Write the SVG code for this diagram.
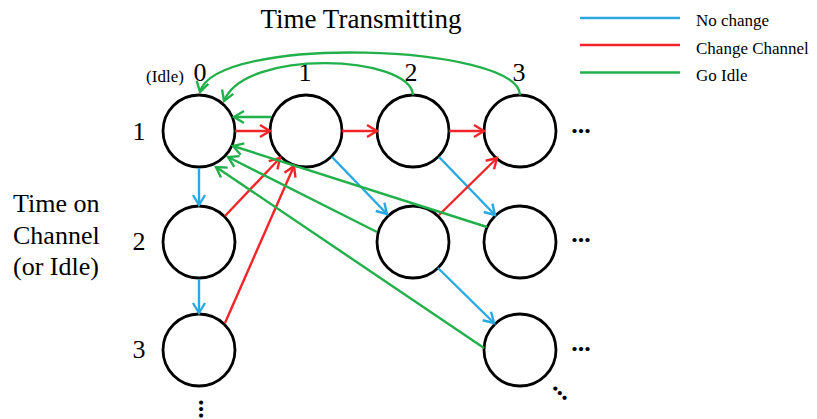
<svg xmlns="http://www.w3.org/2000/svg" width="817" height="419" viewBox="0 0 817 419">
  <style>
    text { font-family: "Liberation Serif", "Times New Roman", serif; fill: #000; }
    .big { font-size: 26px; }
    .title { font-size: 27px; }
    .leg { font-size: 17px; }
    .dots { font-size: 26px; font-weight: bold; }
    .node { fill: #fff; stroke: #000; stroke-width: 2.8; }
    .blue { stroke: #29A9E1; stroke-width: 2.4; fill: none; marker-end: url(#ab); }
    .red { stroke: #F22628; stroke-width: 2.4; fill: none; marker-end: url(#ar); }
    .green { stroke: #22B04B; stroke-width: 2.4; fill: none; marker-end: url(#ag); }
  </style>
  <defs>
    <marker id="ab" markerUnits="userSpaceOnUse" markerWidth="16" markerHeight="16" viewBox="-12 -8 14 16" refX="0" refY="0" orient="auto">
      <path d="M-10,-6 L0,0 L-10,6" fill="none" stroke="#29A9E1" stroke-width="2.4"/>
    </marker>
    <marker id="ar" markerUnits="userSpaceOnUse" markerWidth="16" markerHeight="16" viewBox="-12 -8 14 16" refX="0" refY="0" orient="auto">
      <path d="M-10,-6 L0,0 L-10,6" fill="none" stroke="#F22628" stroke-width="2.4"/>
    </marker>
    <marker id="ag" markerUnits="userSpaceOnUse" markerWidth="16" markerHeight="16" viewBox="-12 -8 14 16" refX="0" refY="0" orient="auto">
      <path d="M-10,-6 L0,0 L-10,6" fill="none" stroke="#22B04B" stroke-width="2.4"/>
    </marker>
  </defs>

  <!-- labels -->
  <g id="labels">
    <text class="title" x="361" y="28" text-anchor="middle">Time Transmitting</text>
    <text x="165" y="82" text-anchor="middle" style="font-size:17px">(Idle)</text>
    <text class="big" x="200" y="81" text-anchor="middle">0</text>
    <text class="big" x="305" y="81" text-anchor="middle">1</text>
    <text class="big" x="411" y="81" text-anchor="middle">2</text>
    <text class="big" x="519" y="81" text-anchor="middle">3</text>
    <text class="big" x="139" y="140" text-anchor="middle">1</text>
    <text class="big" x="139" y="250" text-anchor="middle">2</text>
    <text class="big" x="139" y="358" text-anchor="middle">3</text>
    <text class="big" x="13" y="212">Time on</text>
    <text class="big" x="13" y="244">Channel</text>
    <text class="big" x="13" y="275">(or Idle)</text>
    <text class="dots" x="581" y="133" text-anchor="middle">...</text>
    <text class="dots" x="581" y="242" text-anchor="middle">...</text>
    <text class="dots" x="581" y="351" text-anchor="middle">...</text>
    <text class="dots" x="201" y="411" text-anchor="middle" transform="rotate(90 201 409)">...</text>
    <text class="dots" x="560" y="395" text-anchor="middle" transform="rotate(45 560 393)">...</text>
  </g>

  <!-- legend -->
  <g id="legend">
    <line x1="580" y1="18" x2="680" y2="18" stroke="#29A9E1" stroke-width="2.5"/>
    <line x1="580" y1="45" x2="680" y2="45" stroke="#F22628" stroke-width="2.5"/>
    <line x1="580" y1="72.5" x2="680" y2="72.5" stroke="#22B04B" stroke-width="2.5"/>
    <text class="leg" x="696" y="26">No change</text>
    <text class="leg" x="696" y="54">Change Channel</text>
    <text class="leg" x="696" y="81">Go Idle</text>
  </g>

  <!-- nodes -->
  <g id="n-0-1"><circle class="node" cx="199" cy="131" r="36"/></g>
  <g id="n-1-1"><circle class="node" cx="306" cy="131" r="36"/></g>
  <g id="n-2-1"><circle class="node" cx="413" cy="131" r="36"/></g>
  <g id="n-3-1"><circle class="node" cx="520" cy="131" r="36"/></g>
  <g id="n-0-2"><circle class="node" cx="199" cy="242" r="36"/></g>
  <g id="n-2-2"><circle class="node" cx="413" cy="242" r="36"/></g>
  <g id="n-3-2"><circle class="node" cx="520" cy="242" r="36"/></g>
  <g id="n-0-3"><circle class="node" cx="199" cy="350" r="36"/></g>
  <g id="n-3-3"><circle class="node" cx="520" cy="350" r="36"/></g>

  <!-- connectors -->
  <g id="connectors">
    <!-- no change -->
    <line class="blue" x1="199" y1="168" x2="199" y2="205"/>
    <line class="blue" x1="199" y1="279" x2="199" y2="313"/>
    <line class="blue" x1="332" y1="157" x2="387" y2="214"/>
    <line class="blue" x1="439" y1="157" x2="495" y2="215"/>
    <line class="blue" x1="438" y1="268" x2="494" y2="323"/>
    <!-- change channel -->
    <line class="red" x1="235" y1="131" x2="270" y2="131"/>
    <line class="red" x1="342" y1="131" x2="377" y2="131"/>
    <line class="red" x1="449" y1="131" x2="484" y2="131"/>
    <line class="red" x1="225" y1="216" x2="280" y2="158"/>
    <line class="red" x1="225" y1="323" x2="294" y2="166"/>
    <line class="red" x1="439" y1="215" x2="497" y2="158"/>
    <!-- go idle -->
    <line class="green" x1="271" y1="117" x2="234" y2="117"/>
    <line class="green" x1="487" y1="227" x2="233" y2="146"/>
    <line class="green" x1="377" y1="232" x2="228" y2="157"/>
    <line class="green" x1="484" y1="348" x2="216" y2="167"/>
    <path class="green" d="M413,95 C410,55 245,48 224,101"/>
    <path class="green" d="M520,95 C518,44 215,34 200,92"/>
  </g>
</svg>
